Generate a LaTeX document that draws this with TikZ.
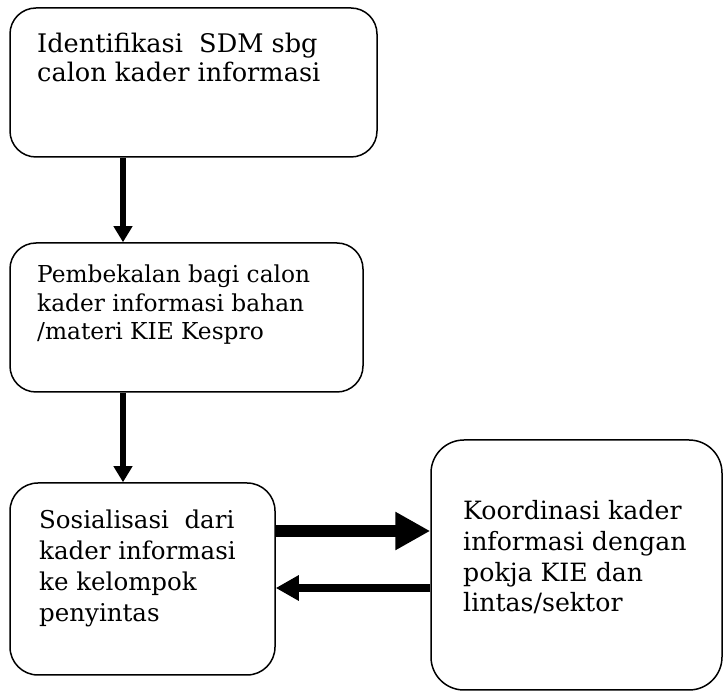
\documentclass[tikz,border=0pt]{standalone}
\usepackage{fontspec}
\setmainfont{DejaVu Serif}
\usetikzlibrary{arrows.meta}

\tikzset{
  stepbox/.style={draw=black, line width=1.5pt, rounded corners=#1, inner sep=0pt},
  stepbox/.default=26pt,
  % multi-line text: the base anchor sits on the last line
  steptext/.style={anchor=base west, align=left, inner sep=0pt},
  downarrow/.style={line width=6pt, -{Triangle[length=16pt,width=18pt]}},
  fatarrow/.style={line width=12pt, -{Triangle[length=35pt,width=36pt]}},
  backarrow/.style={line width=8pt, -{Triangle[length=23pt,width=24pt]}}
}

\begin{document}
\begin{tikzpicture}[x=1pt, y=-1pt]
  \useasboundingbox (0,0) rectangle (724,692);

  % boxes
  \node[stepbox, minimum width=367pt, minimum height=149pt] (b1) at (193.5,82.5) {};
  \node[stepbox, minimum width=353pt, minimum height=149pt] (b2) at (186.5,317.5) {};
  \node[stepbox=28pt, minimum width=265pt, minimum height=192pt] (b3) at (142.5,579) {};
  \node[stepbox=33pt, minimum width=291pt, minimum height=250pt] (b4) at (576.5,565) {};

  % texts
  \node[steptext, font=\fontsize{25.6}{29}\selectfont] (t1) at (37,82)
    {Identifikasi\ \ SDM sbg\\calon kader informasi};
  \node[steptext, font=\fontsize{23.3}{28.5}\selectfont] (t2) at (37,340)
    {Pembekalan bagi calon\\kader informasi bahan\\/materi KIE Kespro};
  \node[steptext, font=\fontsize{24.5}{31}\selectfont] (t3) at (39,622)
    {Sosialisasi\ \ dari\\kader informasi\\ke kelompok\\penyintas};
  \node[steptext, font=\fontsize{25.2}{30.7}\selectfont] (t4) at (463,612)
    {Koordinasi kader\\informasi dengan\\pokja KIE dan\\lintas/sektor};

  % connector guides
  \coordinate (vx) at (123,0);
  \coordinate (hy1) at (0,531);
  \coordinate (hy2) at (0,588);

  % connectors
  \draw[downarrow] (b1.south -| vx) -- (b2.north -| vx);
  \draw[downarrow] (b2.south -| vx) -- (b3.north -| vx);
  \draw[fatarrow] (b3.east |- hy1) -- (b4.west |- hy1);
  \draw[backarrow] (b4.west |- hy2) -- (b3.east |- hy2);
\end{tikzpicture}
\end{document}
